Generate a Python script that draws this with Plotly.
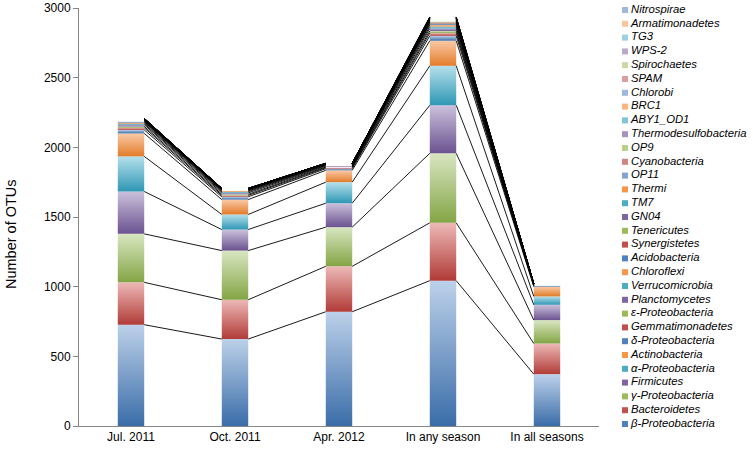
import plotly.graph_objects as go

categories = ["Jul. 2011", "Oct. 2011", "Apr. 2012", "In any season", "In all seasons"]

taxa = ["β-Proteobacteria", "Bacteroidetes", "γ-Proteobacteria", "Firmicutes",
        "α-Proteobacteria", "Actinobacteria", "δ-Proteobacteria", "Gemmatimonadetes",
        "ε-Proteobacteria", "Planctomycetes", "Verrucomicrobia", "Chloroflexi",
        "Acidobacteria", "Synergistetes", "Tenericutes", "GN04", "TM7", "Thermi",
        "OP11", "Cyanobacteria", "OP9", "Thermodesulfobacteria", "ABY1_OD1", "BRC1",
        "Chlorobi", "SPAM", "Spirochaetes", "WPS-2", "TG3", "Armatimonadetes", "Nitrospirae"]

jul_2011 = [727, 304, 348, 304, 252, 165, 25, 15, 10, 12, 8, 8, 6, 4, 4, 3, 3, 2,
            2, 1, 1, 1, 1, 1, 1, 0, 0, 0, 0, 0, 0]
oct_2011 = [624, 282, 353, 151, 108, 107, 20, 10, 8, 10, 8, 6, 5, 3, 3, 2, 2, 1,
            1, 1, 0, 0, 0, 0, 0, 0, 0, 0, 0, 0, 0]
apr_2012 = [820, 326, 281, 172, 151, 85, 12, 7, 5, 6, 5, 4, 3, 2, 2, 1, 1, 1,
            1, 0, 0, 0, 0, 0, 0, 0, 0, 0, 0, 0, 0]
any_season = [1043, 415, 499, 345, 283, 180, 35, 20, 15, 18, 14, 12, 10, 7, 6, 5, 5, 4,
              3, 3, 2, 2, 2, 1, 1, 1, 1, 1, 1, 1, 1]
all_seasons = [372, 220, 168, 110, 60, 70, 6, 3, 2, 3, 2, 2, 1, 1, 1, 0, 0, 0,
               0, 0, 0, 0, 0, 0, 0, 0, 0, 0, 0, 0, 0]

y_ticks = [0, 500, 1000, 1500, 2000, 2500, 3000]
y_title = "Number of OTUs"

series = [jul_2011, oct_2011, apr_2012, any_season, all_seasons]

FONT = "Arial, Liberation Sans, sans-serif"

# base palette (dark bottom, light top, legend mid)
palette = [
    ("#3A6DA8", "#BDD1EA", "#4F81BD"),
    ("#B13B37", "#EDB9B7", "#C0504D"),
    ("#83A544", "#D9E6C2", "#9BBB59"),
    ("#6A5290", "#CBC1DC", "#8064A2"),
    ("#2E97B4", "#B5E0EC", "#4BACC6"),
    ("#E27C2A", "#FAC9A6", "#F79646"),
]


def mix(hexc, f):
    hexc = hexc.lstrip("#")
    r, g, b = int(hexc[0:2], 16), int(hexc[2:4], 16), int(hexc[4:6], 16)
    r = int(r + (255 - r) * f)
    g = int(g + (255 - g) * f)
    b = int(b + (255 - b) * f)
    return "#%02X%02X%02X" % (r, g, b)


def colors_for(k):
    d, l, m = palette[k % 6]
    tier = k // 6
    f = 0.0 if tier < 3 else (0.3 if tier == 3 else 0.45)
    return mix(d, f), mix(l, f), mix(m, f)


W = 0.127
fig = go.Figure()

cums = []
for i, vals in enumerate(series):
    c = 0
    levels = []
    for k, v in enumerate(vals):
        base, top = c, c + v
        if v > 0:
            dark, light, _ = colors_for(k)
            fig.add_trace(go.Scatter(
                x=[i - W, i + W, i + W, i - W, i - W],
                y=[base, base, top, top, base],
                fill="toself", mode="lines", line=dict(width=0, color=light),
                fillgradient=dict(type="vertical", start=base, stop=top,
                                  colorscale=[[0, dark], [1, light]]),
                hoverinfo="skip", showlegend=False))
        c = top
        levels.append(c)
    cums.append(levels)

# connecting lines between stacked segment tops
for k in range(len(taxa)):
    xs, ys = [], []
    for i in range(len(categories) - 1):
        xs += [i + W, i + 1 - W, None]
        ys += [cums[i][k], cums[i + 1][k], None]
    fig.add_trace(go.Scatter(x=xs, y=ys, mode="lines",
                             line=dict(color="black", width=0.9),
                             hoverinfo="skip", showlegend=False))

# manual legend on auxiliary axes (pixel-like coordinates)
idx = list(range(len(taxa)))
fig.add_trace(go.Scatter(
    x=[625] * len(taxa), y=idx, mode="markers",
    marker=dict(symbol="square", size=6, color=[colors_for(k)[2] for k in idx],
                line=dict(width=0)),
    xaxis="x2", yaxis="y2", hoverinfo="skip", showlegend=False, cliponaxis=False))
fig.add_trace(go.Scatter(
    x=[631] * len(taxa), y=idx, mode="text",
    text=["<i>%s</i>" % t for t in taxa], textposition="middle right",
    textfont=dict(family=FONT, size=11.3, color="#000000"),
    xaxis="x2", yaxis="y2", hoverinfo="skip", showlegend=False, cliponaxis=False))

fig.update_layout(
    width=753, height=452,
    margin=dict(l=0, r=0, t=0, b=0, pad=0, autoexpand=False),
    paper_bgcolor="white", plot_bgcolor="rgba(0,0,0,0)",
    showlegend=False,
    font=dict(family=FONT, size=12, color="#000000"),
    xaxis=dict(domain=[79 / 753, 599 / 753], range=[-0.5, 4.5],
               tickvals=list(range(len(categories))), ticktext=categories,
               showline=True, linecolor="#868686", linewidth=1,
               ticks="", showgrid=False, zeroline=False, automargin=False,
               tickfont=dict(size=12), anchor="y"),
    yaxis=dict(domain=[(452 - 426) / 452, (452 - 8) / 452], range=[0, 3000],
               tickvals=y_ticks, showline=True, linecolor="#868686", linewidth=1,
               ticks="outside", ticklen=5, tickcolor="#868686", automargin=False,
               showgrid=False, zeroline=False, tickfont=dict(size=12),
               anchor="x"),
    xaxis2=dict(domain=[0, 1], range=[0, 753], visible=False, anchor="y2",
                fixedrange=True, automargin=False),
    yaxis2=dict(domain=[0, 1], range=[-2.029, 30.725], visible=False, anchor="x2",
                fixedrange=True, automargin=False),
    annotations=[dict(text=y_title, xref="paper", yref="paper",
                      x=11 / 753, y=(452 - 234) / 452, textangle=-90,
                      showarrow=False, font=dict(family=FONT, size=14.5, color="#000000"),
                      xanchor="center", yanchor="middle")],
)

fig.write_html("out.html",
               config={"displayModeBar": False},
               post_script="document.body.style.margin='0';document.body.style.overflow='hidden';")
